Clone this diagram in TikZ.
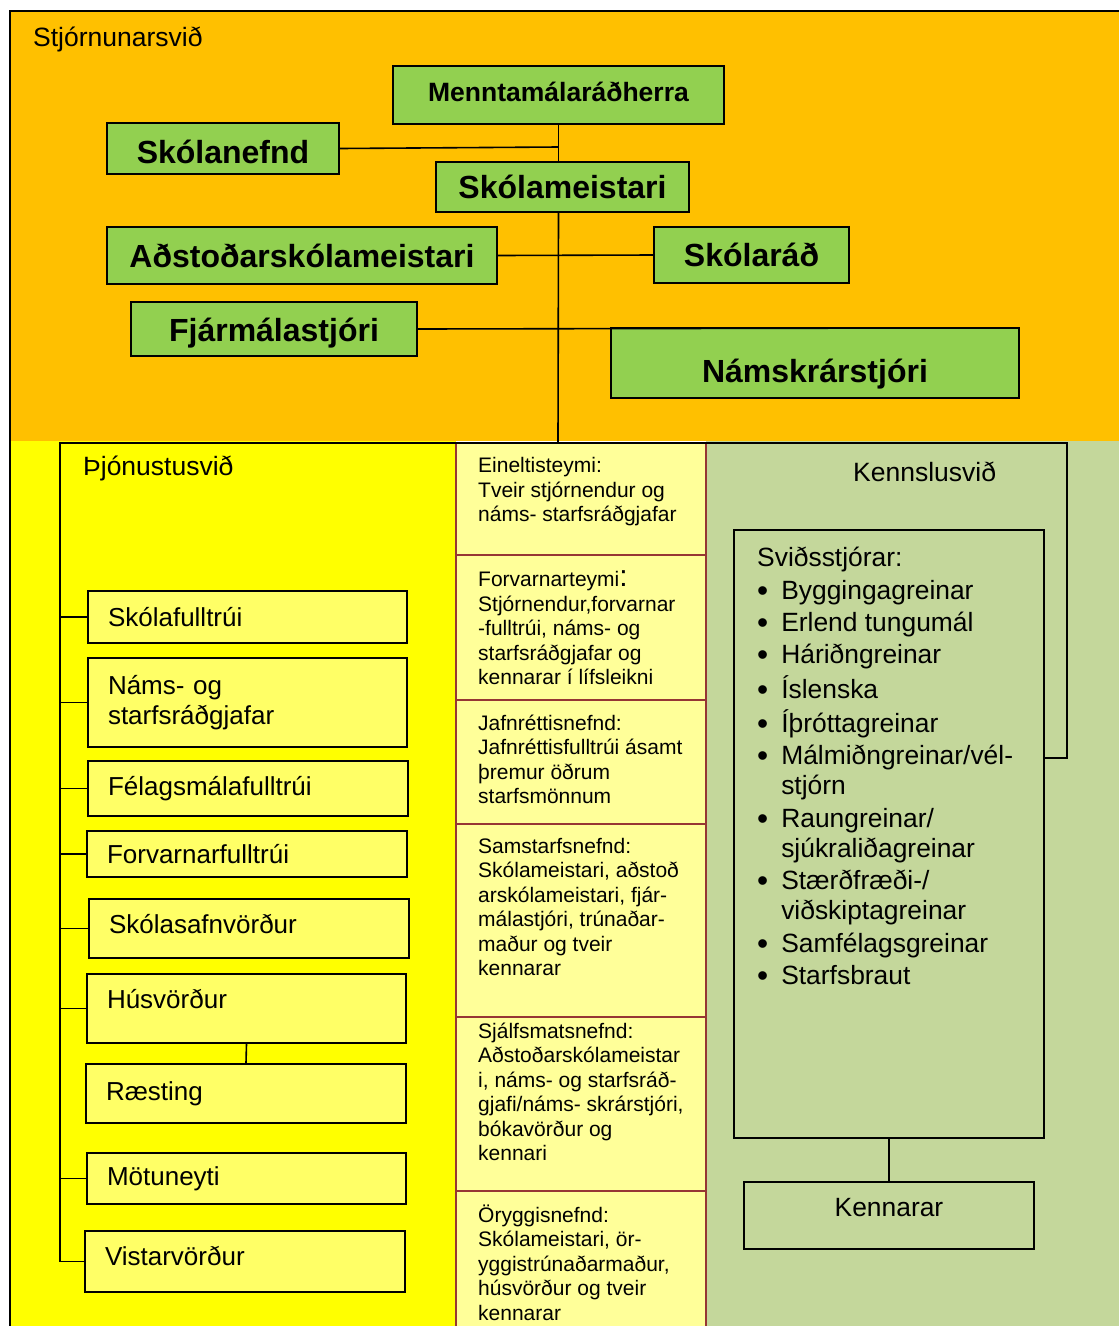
\documentclass[tikz,border=0pt]{standalone}
\usepackage{fontspec}
\setmainfont{Liberation Sans}

\definecolor{stjorn}{RGB}{255,192,0}
\definecolor{graenn}{RGB}{146,208,80}
\definecolor{gulur}{RGB}{255,255,0}
\definecolor{ljosgulur}{RGB}{255,255,102}
\definecolor{folgulur}{RGB}{255,255,153}
\definecolor{kennsla}{RGB}{196,215,155}
\definecolor{rautt}{RGB}{150,54,52}

\newcommand{\punktur}{\raisebox{-2pt}{\scalebox{1.2}{\textbullet}}}

\begin{document}
\begin{tikzpicture}[x=1pt, y=-1pt,
    yfir/.style={draw, line width=2pt, fill=graenn, inner sep=0pt,
        font=\fontsize{32}{36}\selectfont\bfseries},
    thjon/.style={draw, line width=2pt, fill=ljosgulur, align=left,
        inner xsep=20pt, inner ysep=0pt, font=\fontsize{26}{30.7}\selectfont},
    nefnd/.style={anchor=base west, align=left, inner sep=0pt,
        font=\fontsize{21}{24.5}\selectfont},
    titill/.style={anchor=base west, inner sep=0pt,
        font=\fontsize{26.5}{30}\selectfont},
    tengi/.style={line width=1.6pt}]
        \useasboundingbox (0,0) rectangle (1119,1326);

        % Svæði
        \fill[stjorn] (10,11) rectangle (1119,441);
        \fill[gulur] (10,441) rectangle (456,1326);
        \fill[folgulur] (456,443) rectangle (706,1326);
        \fill[kennsla] (706,441) rectangle (1119,1326);
        \draw[line width=2.5pt] (1119,11) -- (10,11) -- (10,1326);

        % Stjórnunarsvið
        \node[titill] (stjtitill) at (33,46.7) {Stjórnunarsvið};
        \node[yfir, minimum width=331pt, minimum height=58pt, text depth=5pt,
            font=\fontsize{26.5}{30}\selectfont\bfseries] (radherra) at (558.5,94.5) {Menntamálaráðherra};
        \node[yfir, minimum width=232pt, minimum height=51pt, text height=29.6pt] (skolanefnd) at (223,148.5) {Skólanefnd};
        \node[yfir, minimum width=253pt, minimum height=50pt] (meistari) at (562.5,187) {Skólameistari};
        \node[yfir, minimum width=390pt, minimum height=57pt] (adstodar) at (302,255.5) {Aðstoðarskólameistari};
        \node[yfir, minimum width=195pt, minimum height=56pt] (skolarad) at (751.5,255) {Skólaráð};
        \node[yfir, minimum width=286pt, minimum height=54pt, text height=32pt] (fjarmal) at (274,329) {Fjármálastjóri};
        \node[yfir, minimum width=408pt, minimum height=70pt, text height=46pt] (namskra) at (815,363) {Námskrárstjóri};

        \coordinate (mot) at (558,443);
        \coordinate (nefndmot) at (558,147);
        \coordinate (fjarend) at (926,328);
        \coordinate (hornV) at (60,443);
        \coordinate (hornH) at (1067,443);
        \coordinate (kmot) at (1044,758);

        \draw[tengi] (radherra.south) -- (radherra.south |- meistari.north);
        \draw[tengi] (radherra.south |- meistari.south) -- (mot);
        \draw[tengi] (skolanefnd.east) -- (nefndmot);
        \draw[tengi] (adstodar.east) -- (skolarad.west);
        \draw[tengi] (fjarmal.east) -- (fjarend);

        % Þjónustusvið
        \node[titill] (thjtitill) at (83,475.7) {Þjónustusvið};
        \node[thjon, text width=279pt, minimum height=52pt] (skolaf) at (247.5,617) {Skólafulltrúi};
        \node[thjon, text width=279pt, minimum height=89pt] (namsr) at (247.5,702.5) {Náms- og\\starfsráðgjafar};
        \node[thjon, text width=280pt, minimum height=55pt] (felags) at (248,788.5) {Félagsmálafulltrúi};
        \node[thjon, text width=280pt, minimum height=46pt] (forvarn) at (247,854) {Forvarnarfulltrúi};
        \node[thjon, text width=280pt, minimum height=59pt, text depth=10pt] (safn) at (249,928.5) {Skólasafnvörður};
        \node[thjon, text width=279pt, minimum height=69pt, text depth=20pt] (hus) at (246.5,1008.5) {Húsvörður};
        \node[thjon, text width=280pt, minimum height=59pt] (raest) at (246,1093.5) {Ræsting};
        \node[thjon, text width=279pt, minimum height=51pt] (motun) at (246.5,1178.5) {Mötuneyti};
        \node[thjon, text width=280pt, minimum height=61pt, text depth=11pt] (vistar) at (245,1261.5) {Vistarvörður};

        \draw[tengi] (vistar.west) -| (hornV) -- (hornH) |- (kmot);
        \foreach \n in {skolaf,namsr,felags,forvarn,safn,hus,motun}
            \draw[tengi] (\n.west) -- (\n.west -| hornV);
        \draw[tengi] (hus.south) -- (raest.north);

        % Nefndir og teymi
        \draw[rautt, line width=1.5pt] (456,443) -- (456,1326);
        \draw[rautt, line width=1.5pt] (706,443) -- (706,1326);
        \foreach \y in {555,700,824,1017,1191}
            \draw[rautt, line width=1.5pt] (456,\y) -- (706,\y);
        \draw[tengi] (hornV) -- (hornH);

        \node[nefnd] (einelti) at (478,521.7) {Eineltisteymi:\\Tveir stjórnendur og\\náms- starfsráðgjafar};
        \node[nefnd] (forvteymi) at (478,684.7) {Forvarnarteymi{\fontsize{30}{30}\selectfont :}\\Stjórnendur,forvarnar\\-fulltrúi, náms- og\\starfsráðgjafar og\\kennarar í lífsleikni};
        \node[nefnd] (jafnretti) at (478,803.5) {Jafnréttisnefnd:\\Jafnréttisfulltrúi ásamt\\þremur öðrum\\starfsmönnum};
        \node[nefnd] (samstarf) at (478,975.5) {Samstarfsnefnd:\\Skólameistari, aðstoð\\arskólameistari, fjár-\\málastjóri, trúnaðar-\\maður og tveir\\kennarar};
        \node[nefnd] (sjalfsmat) at (478,1160.5) {Sjálfsmatsnefnd:\\Aðstoðarskólameistar\\i, náms- og starfsráð-\\gjafi/náms- skrárstjóri,\\bókavörður og\\kennari};
        \node[nefnd] (oryggi) at (478,1320) {Öryggisnefnd:\\Skólameistari, ör-\\yggistrúnaðarmaður,\\húsvörður og tveir\\kennarar};

        % Kennslusvið
        \node[titill] (kenntitill) at (853,481.7) {Kennslusvið};
        \node[draw, line width=2.5pt, minimum width=310pt, minimum height=608pt, inner sep=0pt] (svid) at (889,834) {};
        \node[anchor=base west, inner sep=0pt, font=\fontsize{26.4}{30}\selectfont] (listi) at (757,566.7) {%
            \begin{tabular}[t]{@{}l@{\hspace{13pt}}l@{}}
            \multicolumn{2}{@{}l@{}}{Sviðsstjórar:}\\[2.4pt]
            \punktur & Byggingagreinar\\[2.4pt]
            \punktur & Erlend tungumál\\[2.4pt]
            \punktur & Háriðngreinar\\[2.4pt]
            \punktur & Íslenska\\[2.4pt]
            \punktur & Íþróttagreinar\\[2.4pt]
            \punktur & Málmiðngreinar/vél-\\
                     & stjórn\\[2.4pt]
            \punktur & Raungreinar/\\
                     & sjúkraliðagreinar\\[2.4pt]
            \punktur & Stærðfræði-/\\
                     & viðskiptagreinar\\[2.4pt]
            \punktur & Samfélagsgreinar\\[2.4pt]
            \punktur & Starfsbraut
            \end{tabular}};
        \node[draw, line width=2.5pt, minimum width=290pt, minimum height=67pt, inner sep=0pt,
            text depth=17pt, font=\fontsize{26.4}{30}\selectfont] (kennarar) at (889,1215.5) {Kennarar};
        \draw[tengi] (svid.south) -- (kennarar.north);
\end{tikzpicture}
\end{document}
